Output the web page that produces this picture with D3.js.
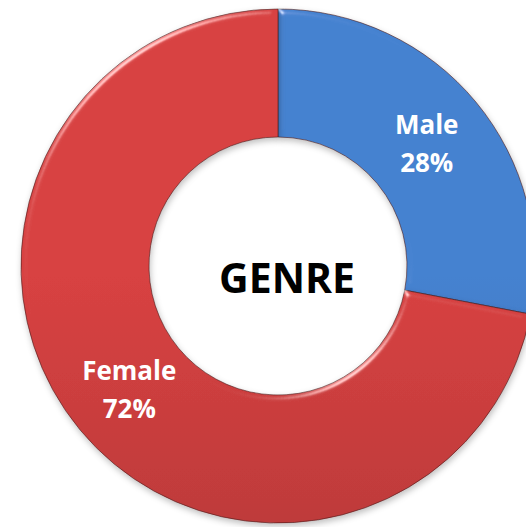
<!DOCTYPE html>
<html lang="en">
<head>
  <meta charset="utf-8" />
  <title>Genre donut</title>
  <script src="https://d3js.org/d3.v7.min.js"></script>
  <style>
    body{margin:0;background:#fff;overflow:hidden;}
    svg{display:block;}
    .lbl{font-family:"Open Sans",sans-serif;font-weight:700;fill:#fff;font-size:26px;}
    .ttl{font-family:"Open Sans",sans-serif;font-weight:700;fill:#000;font-size:41px;}
  </style>
</head>
<body>
<svg id="chart" width="526" height="527"></svg>
<script>
// -------- DATA --------
const categories=['Male','Female'];
const shares=[28,72];
const title='GENRE';

// -------- LAYOUT --------
const cx=278,cy=266,rOuter=257,rInner=129;
const palette={Male:['#4582d0','#33629f'],Female:['#d84242','#a33232']};

const svg=d3.select('#chart');
const defs=svg.append('defs');

// vertical gradient per slice
categories.forEach(c=>{
  const g=defs.append('linearGradient').attr('id','grad-'+c)
    .attr('gradientUnits','userSpaceOnUse')
    .attr('x1',0).attr('y1',cy-rOuter).attr('x2',0).attr('y2',cy+rOuter);
  g.append('stop').attr('offset','0%').attr('stop-color',palette[c][0]);
  g.append('stop').attr('offset','100%').attr('stop-color',palette[c][1]);
});

// soft bevel + shadow
const f=defs.append('filter').attr('id','bevel').attr('x','-10%').attr('y','-10%').attr('width','120%').attr('height','120%');
f.append('feGaussianBlur').attr('in','SourceAlpha').attr('stdDeviation',3).attr('result','blur');
f.append('feOffset').attr('in','blur').attr('dx',1).attr('dy',3).attr('result','offBlur');
f.append('feFlood').attr('flood-color','#000').attr('flood-opacity',0.25).attr('result','fl');
f.append('feComposite').attr('in','fl').attr('in2','offBlur').attr('operator','in').attr('result','shadow');
const sp=f.append('feSpecularLighting').attr('in','blur').attr('surfaceScale',3)
  .attr('specularConstant',0.55).attr('specularExponent',70).attr('lighting-color','#fff').attr('result','spec');
sp.append('feDistantLight').attr('azimuth',235).attr('elevation',40);
f.append('feComposite').attr('in','spec').attr('in2','SourceAlpha').attr('operator','in').attr('result','specIn');
f.append('feComposite').attr('in','SourceGraphic').attr('in2','specIn').attr('operator','arithmetic')
  .attr('k1',0).attr('k2',1).attr('k3',1).attr('k4',0).attr('result','lit');
const m=f.append('feMerge');
m.append('feMergeNode').attr('in','shadow');
m.append('feMergeNode').attr('in','lit');

const data=categories.map((c,i)=>({cat:c,value:shares[i]}));
const pie=d3.pie().sort(null).value(d=>d.value);
const arc=d3.arc().innerRadius(rInner).outerRadius(rOuter);
const labelArc=d3.arc().innerRadius((rInner+rOuter)/2).outerRadius((rInner+rOuter)/2);

const g=svg.append('g').attr('transform',`translate(${cx},${cy})`);
const arcs=pie(data);

g.selectAll('path.slice').data(arcs).enter().append('path')
  .attr('class','slice')
  .attr('d',arc)
  .attr('fill',d=>`url(#grad-${d.data.cat})`)
  .attr('stroke','#4a1a1a').attr('stroke-opacity',0.6).attr('stroke-width',1)
  .attr('filter','url(#bevel)');

// labels
const lab=g.selectAll('text.lbl').data(arcs).enter().append('text')
  .attr('class','lbl').attr('text-anchor','middle')
  .attr('transform',d=>`translate(${labelArc.centroid(d)})`);
lab.append('tspan').attr('x',0).attr('y',-9).text(d=>d.data.cat);
lab.append('tspan').attr('x',0).attr('y',29).text(d=>d3.format('.0f')(d.data.value)+'%');

// centre title
g.append('text').attr('class','ttl').attr('text-anchor','middle')
  .attr('x',9).attr('y',27).text(title);
</script>
</body>
</html>
